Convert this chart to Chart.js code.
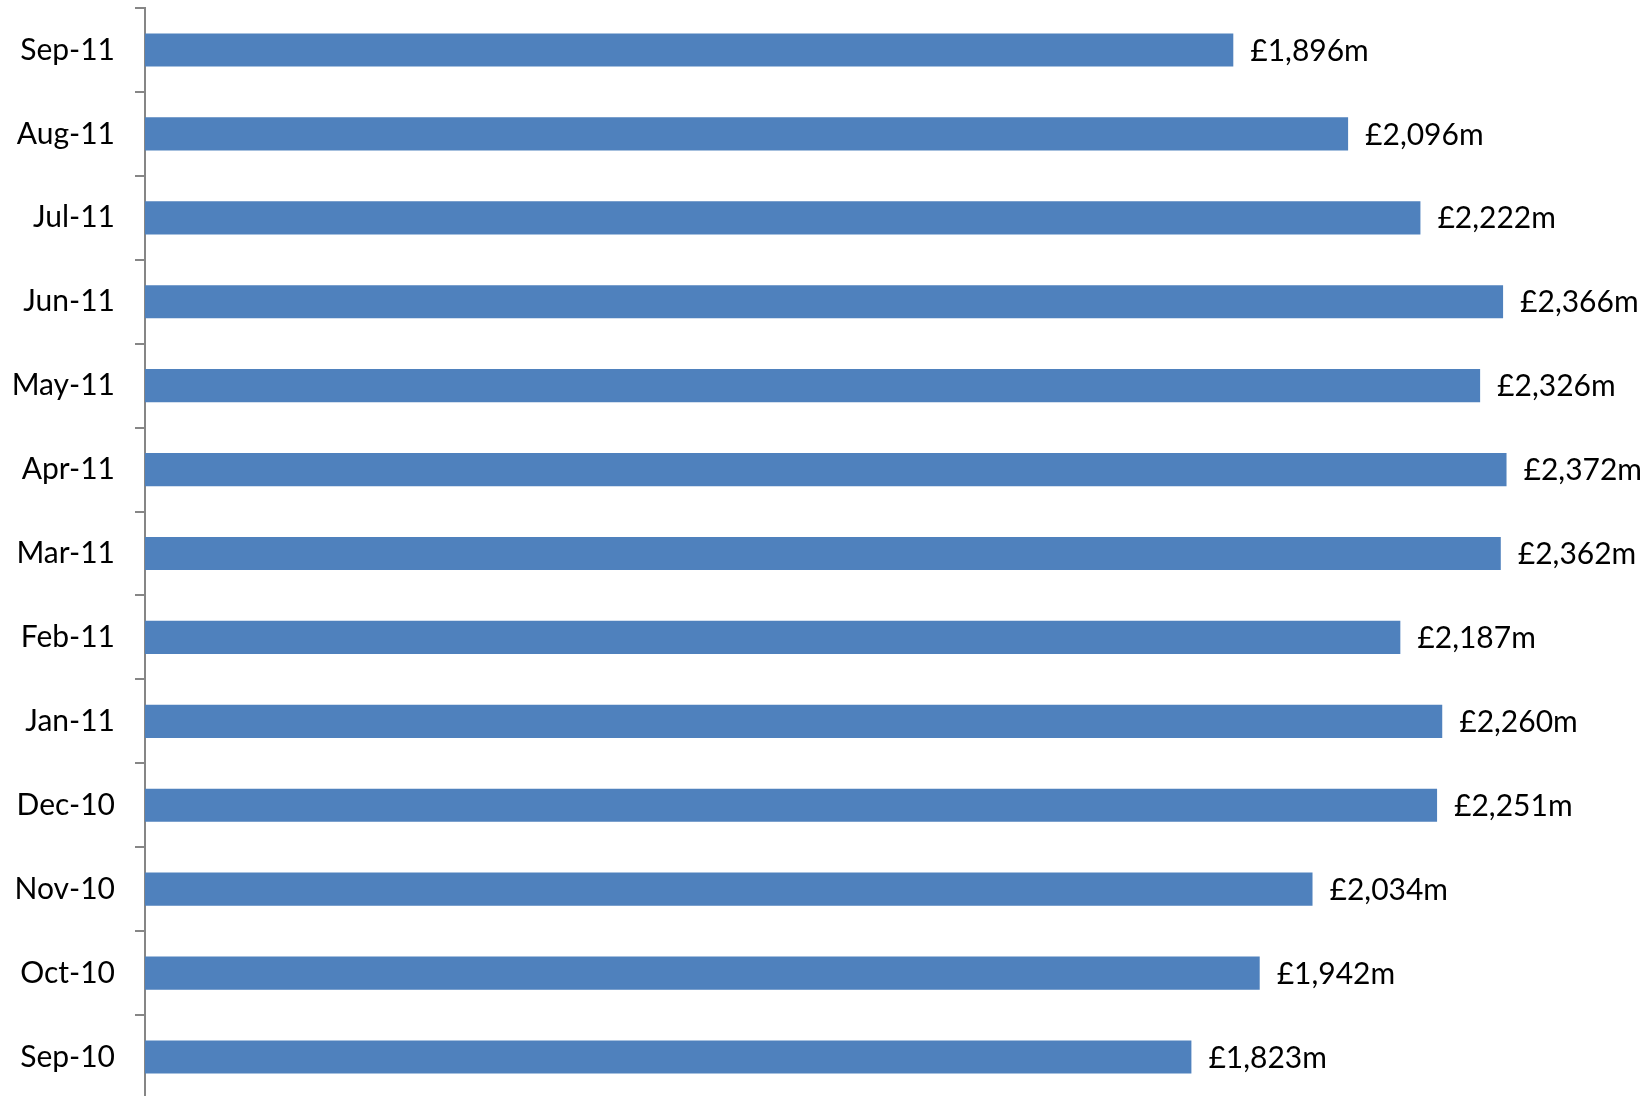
<!DOCTYPE html>
<html>
<head>
<meta charset="utf-8">
<script src="https://cdn.jsdelivr.net/npm/chart.js@4/dist/chart.umd.min.js"></script>
<style>
  html, body { margin: 0; padding: 0; background: #ffffff; overflow: hidden; }
  #wrap { width: 1652px; height: 1100px; position: relative; }
</style>
</head>
<body>
<div id="wrap"><canvas id="c"></canvas></div>
<script>
const categories = ["Sep-11", "Aug-11", "Jul-11", "Jun-11", "May-11", "Apr-11", "Mar-11",
                    "Feb-11", "Jan-11", "Dec-10", "Nov-10", "Oct-10", "Sep-10"];
const values = [1896, 2096, 2222, 2366, 2326, 2372, 2362, 2187, 2260, 2251, 2034, 1942, 1823];
const valueLabels = values.map(v => "£" + v.toLocaleString("en-GB") + "m");

const FONT = "Lato, 'Open Sans', sans-serif";

const barLabelPlugin = {
  id: "barLabels",
  afterDatasetsDraw(chart) {
    const ctx = chart.ctx;
    const meta = chart.getDatasetMeta(0);
    ctx.save();
    ctx.font = "30px " + FONT;
    ctx.fillStyle = "#000000";
    ctx.textAlign = "left";
    ctx.textBaseline = "middle";
    meta.data.forEach((bar, i) => {
      ctx.fillText(valueLabels[i], bar.x + 17, bar.y + 1);
    });
    ctx.restore();
  }
};

new Chart(document.getElementById("c"), {
  type: "bar",
  data: {
    labels: categories,
    datasets: [{
      data: values,
      backgroundColor: "#4F81BD",
      borderWidth: 0,
      barPercentage: 0.395,
      categoryPercentage: 1.0
    }]
  },
  options: {
    indexAxis: "y",
    responsive: true,
    maintainAspectRatio: false,
    animation: false,
    layout: { padding: { top: 8, right: 72, bottom: 1, left: 0 } },
    plugins: { legend: { display: false }, tooltip: { enabled: false } },
    scales: {
      x: { display: false, min: 0, max: 2500 },
      y: {
        afterFit(scale) { scale.width = 145; scale.paddingTop = 0; scale.paddingBottom = 0; },
        border: { display: true, color: "#868686", width: 2 },
        grid: { display: true, drawOnChartArea: false, drawTicks: true, tickLength: 10, color: "#868686", lineWidth: 2, offset: true },
        ticks: { color: "#000000", font: { family: FONT, size: 30 }, padding: 20 }
      }
    }
  },
  plugins: [barLabelPlugin]
});
</script>
</body>
</html>
